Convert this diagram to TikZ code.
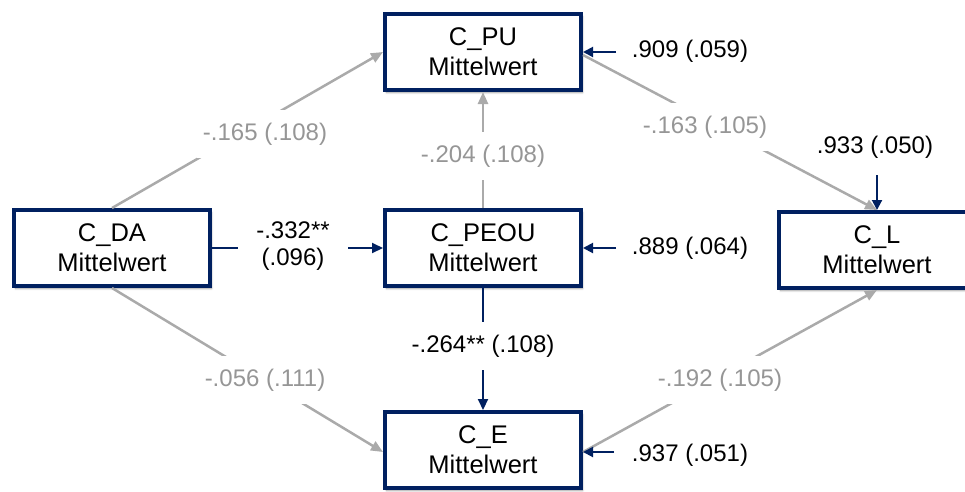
\documentclass[tikz,border=0pt]{standalone}
\usepackage{fontspec}
\setmainfont{Liberation Sans}
\usetikzlibrary{arrows.meta,shadows.blur}

\definecolor{navy}{RGB}{0,32,96}
\definecolor{pathgray}{RGB}{170,170,170}
\definecolor{labelgray}{RGB}{150,150,150}

\tikzset{
  varbox/.style={draw=navy, line width=4pt, fill=white,
    minimum width=196pt, minimum height=76pt, inner sep=0pt,
    align=center, font=\fontsize{25.5}{30}\selectfont,
    blur shadow={shadow xshift=1.5pt, shadow yshift=-2.5pt,
      shadow blur steps=6, shadow opacity=40}},
  sigpath/.style={draw=navy, line width=2pt, -{Triangle[length=11pt,width=10pt]}},
  nspath/.style={draw=pathgray, line width=2.5pt, -{Triangle[length=12pt,width=10pt]}},
  errpath/.style={draw=navy, line width=2pt, -{Triangle[length=10pt,width=10pt]}},
  coef/.style={fill=white, inner xsep=6pt, inner ysep=13pt,
    font=\fontsize{24}{27}\selectfont, align=center},
  nscoef/.style={coef, text=labelgray},
  errlabel/.style={inner sep=0pt, font=\fontsize{24}{27}\selectfont}
}

\begin{document}
\begin{tikzpicture}[x=1pt, y=-1pt]
  \useasboundingbox (0,0) rectangle (965,491);

  % latent variable boxes
  \node[varbox] (pu)   at (483,52)  {C\_PU\\Mittelwert};
  \node[varbox] (da)   at (112,248) {C\_DA\\Mittelwert};
  \node[varbox] (peou) at (483,248) {C\_PEOU\\Mittelwert};
  \node[varbox] (l)    at (877,250) {C\_L\\Mittelwert};
  \node[varbox] (e)    at (483,450) {C\_E\\Mittelwert};

  % non-significant paths
  \draw[nspath] (da.north) -- (pu.west);
  \draw[nspath] (peou.north) -- (pu.south);
  \draw[nspath] ([yshift=-3pt]pu.east) -- (l.north);
  \draw[nspath] (da.south) -- ([yshift=-2pt]e.west);
  \draw[nspath] ([yshift=-2pt]e.east) -- (l.south);

  % significant paths
  \draw[sigpath] (da.east) -- (peou.west);
  \draw[sigpath] (peou.south) -- (e.north);

  % path coefficients (standard errors)
  \node[nscoef] (c1) at (265,134) {-.165 (.108)};
  \node[nscoef] (c2) at (483,156) {-.204 (.108)};
  \node[nscoef] (c3) at (705,127) {-.163 (.105)};
  \node[nscoef] (c4) at (265,380) {-.056 (.111)};
  \node[nscoef] (c5) at (720,380) {-.192 (.105)};
  \node[coef, inner xsep=18pt, inner ysep=4pt] (c6) at (293,246) {-.332**\\(.096)};
  \node[coef] (c7) at (483,346) {-.264** (.108)};

  % residual variances
  \node[errlabel] (epu)   at (690,51)  {.909 (.059)};
  \node[errlabel] (epeou) at (690,248) {.889 (.064)};
  \node[errlabel] (ee)    at (690,455) {.937 (.051)};
  \node[errlabel] (el)    at (875,147) {.933 (.050)};
  \coordinate (rpu)   at (616,52);
  \coordinate (rpeou) at (616,248);
  \coordinate (re)    at (614,452);
  \coordinate (rl)    at (877,175);
  \draw[errpath] (rpu) -- (rpu -| pu.east);
  \draw[errpath] (rpeou) -- (rpeou -| peou.east);
  \draw[errpath] (re) -- (re -| e.east);
  \draw[errpath] (rl) -- (rl |- l.north);
\end{tikzpicture}
\end{document}
